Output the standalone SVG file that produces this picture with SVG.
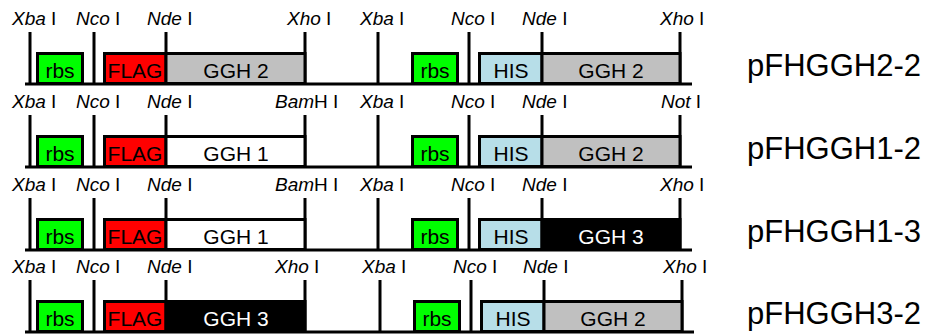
<svg xmlns="http://www.w3.org/2000/svg" width="932" height="334" viewBox="0 0 932 334">
<style>
text{font-family:"Liberation Sans",Arial,sans-serif;fill:#000}
.site{font-size:19px}
.site .i{font-style:italic}
.bt{font-size:21px;text-anchor:middle}
.name{font-size:31px}
.box{stroke:#000;stroke-width:3}
.rbs{fill:#00ff00}
.flag{fill:#ff0000}
.his{fill:#b7dee8}
.g2{fill:#c0c0c0}
.g1{fill:#ffffff}
.g3{fill:#000000}
.wt{fill:#ffffff}
.ln{stroke:#000;stroke-width:3;fill:none}
</style>
<defs>
<path id="ticksL" d="M30 32V84M94 32V84M166 32V84M305 32V84"/>
<path id="ticksR" d="M378 32V84M469 32V84M542 32V84M680 32V84"/>
</defs>

<g id="connectors">
<g transform="translate(0,0)">
<path class="ln" d="M25 84H692"/><use href="#ticksL" class="ln"/><use href="#ticksR" class="ln"/>
</g>
<g transform="translate(0,83)">
<path class="ln" d="M25 84H692"/><use href="#ticksL" class="ln"/><use href="#ticksR" class="ln"/>
</g>
<g transform="translate(0,166)">
<path class="ln" d="M25 84H692"/><use href="#ticksL" class="ln"/><use href="#ticksR" class="ln"/>
</g>
<g transform="translate(0,248)">
<path class="ln" d="M25 84H694"/><use href="#ticksL" class="ln"/><use href="#ticksR" class="ln" transform="translate(2,0)"/>
</g>
</g>

<!-- Row 1 -->
<g id="row1">
<g id="r1-sites" class="site">
<text x="12" y="25"><tspan class="i">Xba</tspan> I</text>
<text x="76" y="25"><tspan class="i">Nco</tspan> I</text>
<text x="147" y="25"><tspan class="i">Nde</tspan> I</text>
<text x="287" y="25"><tspan class="i">Xho</tspan> I</text>
<text x="360" y="25"><tspan class="i">Xba</tspan> I</text>
<text x="451" y="25"><tspan class="i">Nco</tspan> I</text>
<text x="522" y="25"><tspan class="i">Nde</tspan> I</text>
<text x="660" y="25"><tspan class="i">Xho</tspan> I</text>
</g>
<g id="r1-rbs1"><rect class="box rbs" x="37.5" y="53.5" width="45" height="30"/><text class="bt" x="60" y="78">rbs</text></g>
<g id="r1-flag"><rect class="box flag" x="104.5" y="53.5" width="61.5" height="30"/><text class="bt" x="135" y="78">FLAG</text></g>
<g id="r1-ggh2a"><rect class="box g2" x="166" y="53.5" width="139" height="30"/><text class="bt" x="236" y="78">GGH 2</text></g>
<g id="r1-rbs2"><rect class="box rbs" x="412.5" y="53.5" width="45" height="30"/><text class="bt" x="435" y="78">rbs</text></g>
<g id="r1-his"><rect class="box his" x="479.5" y="53.5" width="62.5" height="30"/><text class="bt" x="511" y="78">HIS</text></g>
<g id="r1-ggh2b"><rect class="box g2" x="542" y="53.5" width="138" height="30"/><text class="bt" x="611" y="78">GGH 2</text></g>
<text id="r1-name" class="name" x="747" y="76">pFHGGH2-2</text>
</g>

<!-- Row 2 -->
<g id="row2" transform="translate(0,83)">
<g id="r2-sites" class="site">
<text x="12" y="25"><tspan class="i">Xba</tspan> I</text>
<text x="76" y="25"><tspan class="i">Nco</tspan> I</text>
<text x="147" y="25"><tspan class="i">Nde</tspan> I</text>
<text x="275" y="25"><tspan class="i">Bam</tspan>H I</text>
<text x="360" y="25"><tspan class="i">Xba</tspan> I</text>
<text x="451" y="25"><tspan class="i">Nco</tspan> I</text>
<text x="522" y="25"><tspan class="i">Nde</tspan> I</text>
<text x="661" y="25"><tspan class="i">Not</tspan> I</text>
</g>
<g id="r2-rbs1"><rect class="box rbs" x="37.5" y="53.5" width="45" height="30"/><text class="bt" x="60" y="78">rbs</text></g>
<g id="r2-flag"><rect class="box flag" x="104.5" y="53.5" width="61.5" height="30"/><text class="bt" x="135" y="78">FLAG</text></g>
<g id="r2-ggh1"><rect class="box g1" x="166" y="53.5" width="139" height="30"/><text class="bt" x="236" y="78">GGH 1</text></g>
<g id="r2-rbs2"><rect class="box rbs" x="412.5" y="53.5" width="45" height="30"/><text class="bt" x="435" y="78">rbs</text></g>
<g id="r2-his"><rect class="box his" x="479.5" y="53.5" width="62.5" height="30"/><text class="bt" x="511" y="78">HIS</text></g>
<g id="r2-ggh2"><rect class="box g2" x="542" y="53.5" width="138" height="30"/><text class="bt" x="611" y="78">GGH 2</text></g>
<text id="r2-name" class="name" x="747" y="76">pFHGGH1-2</text>
</g>

<!-- Row 3 -->
<g id="row3" transform="translate(0,166)">
<g id="r3-sites" class="site">
<text x="12" y="25"><tspan class="i">Xba</tspan> I</text>
<text x="76" y="25"><tspan class="i">Nco</tspan> I</text>
<text x="147" y="25"><tspan class="i">Nde</tspan> I</text>
<text x="275" y="25"><tspan class="i">Bam</tspan>H I</text>
<text x="360" y="25"><tspan class="i">Xba</tspan> I</text>
<text x="451" y="25"><tspan class="i">Nco</tspan> I</text>
<text x="522" y="25"><tspan class="i">Nde</tspan> I</text>
<text x="660" y="25"><tspan class="i">Xho</tspan> I</text>
</g>
<g id="r3-rbs1"><rect class="box rbs" x="37.5" y="53.5" width="45" height="30"/><text class="bt" x="60" y="78">rbs</text></g>
<g id="r3-flag"><rect class="box flag" x="104.5" y="53.5" width="61.5" height="30"/><text class="bt" x="135" y="78">FLAG</text></g>
<g id="r3-ggh1"><rect class="box g1" x="166" y="53.5" width="139" height="30"/><text class="bt" x="236" y="78">GGH 1</text></g>
<g id="r3-rbs2"><rect class="box rbs" x="412.5" y="53.5" width="45" height="30"/><text class="bt" x="435" y="78">rbs</text></g>
<g id="r3-his"><rect class="box his" x="479.5" y="53.5" width="62.5" height="30"/><text class="bt" x="511" y="78">HIS</text></g>
<g id="r3-ggh3"><rect class="box g3" x="542" y="53.5" width="138" height="30"/><text class="bt wt" x="611" y="78">GGH 3</text></g>
<text id="r3-name" class="name" x="747" y="76">pFHGGH1-3</text>
</g>

<!-- Row 4 -->
<g id="row4" transform="translate(0,248)">
<g id="r4-sites" class="site">
<text x="12" y="25"><tspan class="i">Xba</tspan> I</text>
<text x="76" y="25"><tspan class="i">Nco</tspan> I</text>
<text x="147" y="25"><tspan class="i">Nde</tspan> I</text>
<text x="275" y="25"><tspan class="i">Xho</tspan> I</text>
<text x="362" y="25"><tspan class="i">Xba</tspan> I</text>
<text x="453" y="25"><tspan class="i">Nco</tspan> I</text>
<text x="523" y="25"><tspan class="i">Nde</tspan> I</text>
<text x="663" y="25"><tspan class="i">Xho</tspan> I</text>
</g>
<g id="r4-rbs1"><rect class="box rbs" x="37.5" y="53.5" width="45" height="30"/><text class="bt" x="60" y="78">rbs</text></g>
<g id="r4-flag"><rect class="box flag" x="104.5" y="53.5" width="61.5" height="30"/><text class="bt" x="135" y="78">FLAG</text></g>
<g id="r4-ggh3"><rect class="box g3" x="166" y="53.5" width="139" height="30"/><text class="bt wt" x="236" y="78">GGH 3</text></g>
<g id="r4-rbs2"><rect class="box rbs" x="414.5" y="53.5" width="45" height="30"/><text class="bt" x="437" y="78">rbs</text></g>
<g id="r4-his"><rect class="box his" x="481.5" y="53.5" width="62.5" height="30"/><text class="bt" x="513" y="78">HIS</text></g>
<g id="r4-ggh2"><rect class="box g2" x="544" y="53.5" width="138" height="30"/><text class="bt" x="613" y="78">GGH 2</text></g>
<text id="r4-name" class="name" x="747" y="76">pFHGGH3-2</text>
</g>
</svg>
